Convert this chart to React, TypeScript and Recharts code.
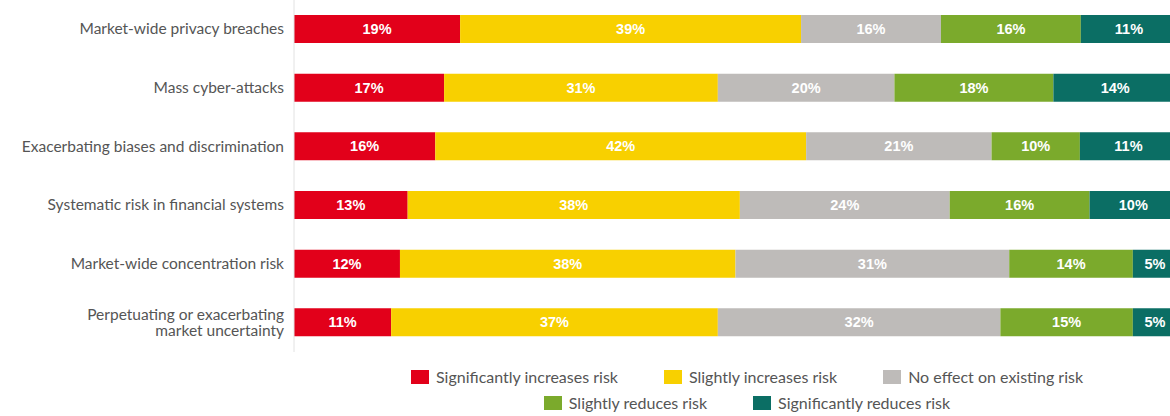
import { BarChart, Bar, XAxis, YAxis, Legend, LabelList } from 'recharts';

// risk categories, top to bottom
const categories = [
  'Market-wide privacy breaches',
  'Mass cyber-attacks',
  'Exacerbating biases and discrimination',
  'Systematic risk in financial systems',
  'Market-wide concentration risk',
  'Perpetuating or exacerbating\nmarket uncertainty',
];

const sigIncreases = [19, 17, 16, 13, 12, 11];
const slightIncreases = [39, 31, 42, 38, 38, 37];
const noEffect = [16, 20, 21, 24, 31, 32];
const slightReduces = [16, 18, 10, 16, 14, 15];
const sigReduces = [11, 14, 11, 10, 5, 5];

const series = [
  { key: 'sigInc', name: 'Significantly increases risk', color: '#e2001a', values: sigIncreases },
  { key: 'slightInc', name: 'Slightly increases risk', color: '#f8d000', values: slightIncreases },
  { key: 'none', name: 'No effect on existing risk', color: '#bebbb9', values: noEffect },
  { key: 'slightRed', name: 'Slightly reduces risk', color: '#7baa2c', values: slightReduces },
  { key: 'sigRed', name: 'Significantly reduces risk', color: '#0b6e64', values: sigReduces },
];

const data = categories.map((name, i) => {
  const row: Record<string, string | number> = { name };
  series.forEach((s) => {
    row[s.key] = s.values[i];
  });
  return row;
});

const FONT = 'Lato, "Open Sans", sans-serif';

function CategoryTick({ x, y, payload }: any) {
  const lines = String(payload.value).split('\n');
  const lineHeight = 16;
  const startDy = -((lines.length - 1) * lineHeight) / 2;
  return (
    <text x={x - 2} y={y} textAnchor="end" fontFamily={FONT} fontSize={15.5} fill="#555">
      {lines.map((line, i) => (
        <tspan key={i} x={x - 2} dy={i === 0 ? startDy + 5 : lineHeight}>
          {line}
        </tspan>
      ))}
    </text>
  );
}

// legend keeps the series order rather than the sorted payload
function RiskLegend() {
  return (
    <div
      style={{
        width: 720,
        marginLeft: 387,
        paddingTop: 16,
        display: 'flex',
        flexWrap: 'wrap',
        justifyContent: 'center',
        columnGap: 46,
        rowGap: 8,
        fontFamily: FONT,
        fontSize: 16,
        color: '#555',
      }}
    >
      {series.map((s) => (
        <div key={s.key} style={{ display: 'flex', alignItems: 'center', lineHeight: '18px' }}>
          <span style={{ width: 18, height: 14, background: s.color, marginRight: 7, display: 'inline-block' }} />
          <span>{s.name}</span>
        </div>
      ))}
    </div>
  );
}

export default function App() {
  return (
    <div style={{ position: 'absolute', left: 0, top: 0, width: 1170, height: 416, overflow: 'hidden', background: '#fff' }}>
      <BarChart
        width={1177}
        height={416}
        data={data}
        layout="vertical"
        stackOffset="expand"
        barSize={28}
        margin={{ top: 0, right: 0, left: 0, bottom: 0 }}
      >
        <XAxis type="number" domain={[0, 1]} hide />
        <YAxis
          type="category"
          dataKey="name"
          width={294}
          tickLine={false}
          axisLine={{ stroke: '#e2e2e2' }}
          tick={<CategoryTick />}
          interval={0}
        />
        <Legend verticalAlign="bottom" height={64} content={<RiskLegend />} />
        {series.map((s) => (
          <Bar key={s.key} dataKey={s.key} name={s.name} stackId="risk" fill={s.color} isAnimationActive={false}>
            <LabelList
              dataKey={s.key}
              position="center"
              fill="#fff"
              fontFamily='"Liberation Sans", Arial, sans-serif'
              fontWeight="bold"
              fontSize={14.5}
              formatter={(v: any) => `${v}%`}
            />
          </Bar>
        ))}
      </BarChart>
    </div>
  );
}
